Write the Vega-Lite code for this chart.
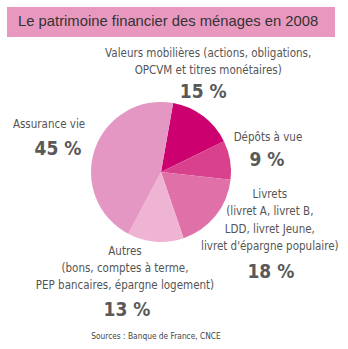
{
  "$schema": "https://vega.github.io/schema/vega-lite/v6.json",
  "width": 348,
  "height": 349,
  "autosize": {"type": "none"},
  "padding": 0,
  "background": "white",
  "config": {"view": {"stroke": null}},
  "data": {
    "values": [
      {"key": "vm", "ord": 1, "value": 15, "name": "Valeurs mobilières (actions, obligations,\nOPCVM et titres monétaires)", "pct": "15 %"},
      {"key": "dep", "ord": 2, "value": 9, "name": "Dépôts à vue", "pct": "9 %"},
      {"key": "liv", "ord": 3, "value": 18, "name": "Livrets\n(livret A, livret B,\nLDD, livret Jeune,\nlivret d'épargne populaire)", "pct": "18 %"},
      {"key": "aut", "ord": 4, "value": 13, "name": "Autres\n(bons, comptes à terme,\nPEP bancaires, épargne logement)", "pct": "13 %"},
      {"key": "av", "ord": 5, "value": 45, "name": "Assurance vie", "pct": "45 %"}
    ]
  },
  "encoding": {
    "theta": {"field": "value", "type": "quantitative", "stack": true, "scale": {"range": [0.17453, 6.45772]}},
    "order": {"field": "ord", "type": "quantitative"}
  },
  "layer": [
    {
      "data": {"values": [{"t": "Le patrimoine financier des ménages en 2008"}]},
      "mark": {"type": "rect", "x": 7, "x2": 335, "y": 7, "y2": 37, "color": "#e898bf"},
      "encoding": {"theta": null, "order": null}
    },
    {
      "data": {"values": [{"t": "Le patrimoine financier des ménages en 2008"}]},
      "mark": {"type": "text", "x": 18, "y": 22, "align": "left", "baseline": "middle", "font": "Liberation Sans", "fontSize": 14.8, "color": "#333333"},
      "encoding": {"theta": null, "order": null, "text": {"field": "t"}}
    },
    {
      "data": {"values": [{"t": "Sources : Banque de France, CNCE"}]},
      "mark": {"type": "text", "x": 156, "y": 337, "align": "center", "baseline": "middle", "font": "DejaVu Sans Condensed", "fontSize": 8.3, "color": "#444444"},
      "encoding": {"theta": null, "order": null, "text": {"field": "t"}}
    },
    {
      "mark": {"type": "arc", "x": 161, "y": 172, "outerRadius": 70, "stroke": null},
      "encoding": {
        "color": {"field": "key", "type": "nominal", "legend": null,
          "scale": {"domain": ["vm", "dep", "liv", "aut", "av"], "range": ["#cc006f", "#d9418d", "#e070a8", "#efb4d4", "#e597c3"]}}
      }
    },
    {
      "mark": {"type": "text", "x": 161, "y": 172, "radius": 105, "dx": -16, "dy": -34, "align": "center", "baseline": "middle", "lineBreak": "\n", "lineHeight": 17, "font": "DejaVu Sans Condensed", "fontSize": 11.5, "color": "#555555"},
      "encoding": {"text": {"condition": {"test": "datum.key === 'vm'", "field": "name"}, "value": ""}}
    },
    {
      "mark": {"type": "text", "x": 161, "y": 172, "radius": 105, "dx": -21, "dy": 4, "align": "center", "baseline": "middle", "font": "DejaVu Sans Condensed", "fontSize": 19, "fontWeight": "bold", "color": "#595959"},
      "encoding": {"text": {"condition": {"test": "datum.key === 'vm'", "field": "pct"}, "value": ""}}
    },
    {
      "mark": {"type": "text", "x": 161, "y": 172, "radius": 105, "dx": 3.5, "dy": -16, "align": "center", "baseline": "middle", "lineBreak": "\n", "lineHeight": 17, "font": "DejaVu Sans Condensed", "fontSize": 11.5, "color": "#555555"},
      "encoding": {"text": {"condition": {"test": "datum.key === 'dep'", "field": "name"}, "value": ""}}
    },
    {
      "mark": {"type": "text", "x": 161, "y": 172, "radius": 105, "dx": 2.5, "dy": 6, "align": "center", "baseline": "middle", "font": "DejaVu Sans Condensed", "fontSize": 19, "fontWeight": "bold", "color": "#595959"},
      "encoding": {"text": {"condition": {"test": "datum.key === 'dep'", "field": "pct"}, "value": ""}}
    },
    {
      "mark": {"type": "text", "x": 161, "y": 172, "radius": 105, "dx": 27, "dy": -42.8, "align": "center", "baseline": "middle", "lineBreak": "\n", "lineHeight": 17.3, "font": "DejaVu Sans Condensed", "fontSize": 11.5, "color": "#555555"},
      "encoding": {"text": {"condition": {"test": "datum.key === 'liv'", "field": "name"}, "value": ""}}
    },
    {
      "mark": {"type": "text", "x": 161, "y": 172, "radius": 105, "dx": 28, "dy": 34, "align": "center", "baseline": "middle", "font": "DejaVu Sans Condensed", "fontSize": 19, "fontWeight": "bold", "color": "#595959"},
      "encoding": {"text": {"condition": {"test": "datum.key === 'liv'", "field": "pct"}, "value": ""}}
    },
    {
      "mark": {"type": "text", "x": 161, "y": 172, "radius": 105, "dx": -27.6, "dy": -24.7, "align": "center", "baseline": "middle", "lineBreak": "\n", "lineHeight": 17, "font": "DejaVu Sans Condensed", "fontSize": 11.5, "color": "#555555"},
      "encoding": {"text": {"condition": {"test": "datum.key === 'aut'", "field": "name"}, "value": ""}}
    },
    {
      "mark": {"type": "text", "x": 161, "y": 172, "radius": 105, "dx": -25.6, "dy": 33.5, "align": "center", "baseline": "middle", "font": "DejaVu Sans Condensed", "fontSize": 19, "fontWeight": "bold", "color": "#595959"},
      "encoding": {"text": {"condition": {"test": "datum.key === 'aut'", "field": "pct"}, "value": ""}}
    },
    {
      "mark": {"type": "text", "x": 161, "y": 172, "radius": 105, "dx": -12.7, "dy": -12.8, "align": "center", "baseline": "middle", "lineBreak": "\n", "lineHeight": 17, "font": "DejaVu Sans Condensed", "fontSize": 11.5, "color": "#555555"},
      "encoding": {"text": {"condition": {"test": "datum.key === 'av'", "field": "name"}, "value": ""}}
    },
    {
      "mark": {"type": "text", "x": 161, "y": 172, "radius": 105, "dx": -3.7, "dy": 11.5, "align": "center", "baseline": "middle", "font": "DejaVu Sans Condensed", "fontSize": 19, "fontWeight": "bold", "color": "#595959"},
      "encoding": {"text": {"condition": {"test": "datum.key === 'av'", "field": "pct"}, "value": ""}}
    }
  ]
}
